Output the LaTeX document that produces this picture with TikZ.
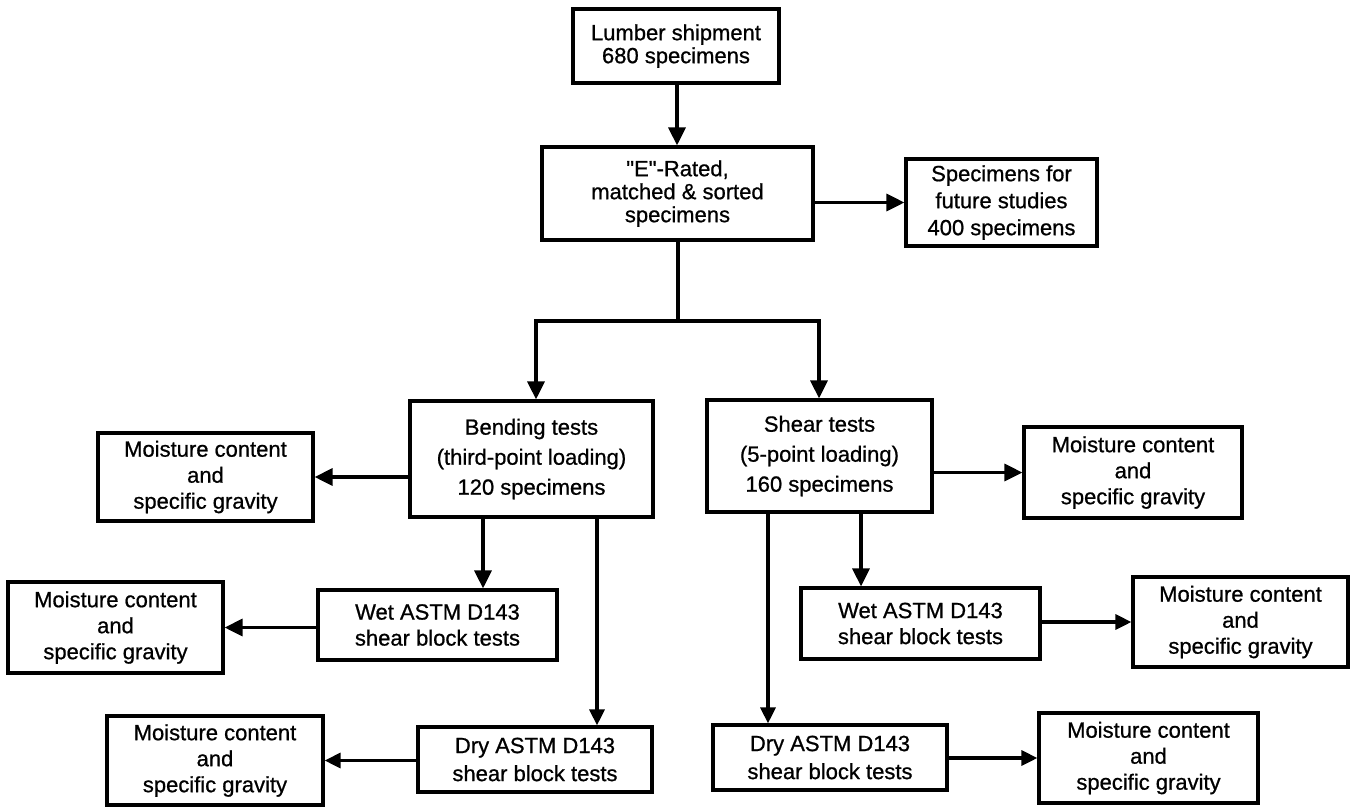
\documentclass[tikz,border=0pt]{standalone}
\usepackage{fontspec}
\setmainfont{Liberation Sans}[Ligatures=TeXOff,FakeBold=0.8]
\usetikzlibrary{arrows.meta,positioning}
\begin{document}
\begin{tikzpicture}[x=1pt,y=-1pt,
  box/.style={draw,line width=3.2pt,rectangle,align=center,inner sep=0pt,
    font=\fontsize{22}{26}\selectfont},
  conn/.style={line width=3.2pt},
  arr/.style={line width=3.2pt,-{Triangle[length=18pt,width=17pt]}},
  thinarr/.style={line width=3.2pt,-{Triangle[length=16pt,width=15pt]}}]
\useasboundingbox (0,0) rectangle (1354,806);

\node[box,minimum width=206pt,minimum height=74pt,font=\fontsize{22}{23}\selectfont] (lumber) at (676,46) {Lumber shipment\\680 specimens};
\node[box,minimum width=271pt,minimum height=93pt,font=\fontsize{22}{23}\selectfont] (E) at (677.5,193.5) {"E"-Rated,\\matched \& sorted\\specimens};
\node[box,minimum width=191pt,minimum height=87pt,font=\fontsize{22}{27}\selectfont] (fut) at (1001.5,202.5) {Specimens for\\future studies\\400 specimens};
\node[box,minimum width=243pt,minimum height=116pt,font=\fontsize{22}{30}\selectfont] (bend) at (531.5,459) {Bending tests\\(third-point loading)\\120 specimens};
\node[box,minimum width=225pt,minimum height=112pt,font=\fontsize{22}{30}\selectfont] (shear) at (819.5,456) {Shear tests\\(5-point loading)\\160 specimens};
\node[box,minimum width=215pt,minimum height=88pt] (ml1) at (205.5,477) {Moisture content\\and\\specific gravity};
\node[box,minimum width=218pt,minimum height=91pt] (mr1) at (1133,472.5) {Moisture content\\and\\specific gravity};
\node[box,minimum width=239pt,minimum height=70pt] (wetL) at (437.5,625) {Wet ASTM D143\\shear block tests};
\node[box,minimum width=215pt,minimum height=91pt] (ml2) at (115.5,627.5) {Moisture content\\and\\specific gravity};
\node[box,minimum width=234pt,minimum height=65pt,font=\fontsize{22}{28}\selectfont] (dryL) at (535,759.5) {Dry ASTM D143\\shear block tests};
\node[box,minimum width=216pt,minimum height=89pt] (ml3) at (215,760.5) {Moisture content\\and\\specific gravity};
\node[box,minimum width=239pt,minimum height=71pt] (wetR) at (920.5,623.5) {Wet ASTM D143\\shear block tests};
\node[box,minimum width=215pt,minimum height=90pt] (mr2) at (1240.5,622) {Moisture content\\and\\specific gravity};
\node[box,minimum width=234pt,minimum height=65pt,font=\fontsize{22}{28}\selectfont] (dryR) at (830,757.5) {Dry ASTM D143\\shear block tests};
\node[box,minimum width=219pt,minimum height=90pt] (mr3) at (1148.5,758) {Moisture content\\and\\specific gravity};

\coordinate (split) at (678,321);
\coordinate (splitL) at (536,321);
\coordinate (splitR) at (819,321);

\draw[arr] (lumber.south -| 677,0) -- (E.north -| 677,0);
\draw[arr] (E.east |- fut) -- (fut.west);
\draw[conn] (E.south -| split) -- (split);
\draw[conn,line cap=rect] (splitL) -- (splitR);
\draw[arr] (splitL) -- (bend.north -| splitL);
\draw[arr] (splitR) -- (shear.north -| splitR);
\draw[arr] (bend.west |- ml1) -- (ml1.east);
\draw[arr] (shear.east |- mr1) -- (mr1.west);
\draw[arr] (bend.south -| 483,0) -- (wetL.north -| 483,0);
\draw[thinarr] (bend.south -| 597,0) -- (dryL.north -| 597,0);
\draw[thinarr] (shear.south -| 768,0) -- (dryR.north -| 768,0);
\draw[arr] (shear.south -| 861,0) -- (wetR.north -| 861,0);
\draw[arr] (wetL.west |- ml2) -- (ml2.east);
\draw[thinarr] (dryL.west |- ml3) -- (ml3.east);
\draw[thinarr] (wetR.east |- mr2) -- (mr2.west);
\draw[thinarr] (dryR.east |- mr3) -- (mr3.west);
\end{tikzpicture}
\end{document}
